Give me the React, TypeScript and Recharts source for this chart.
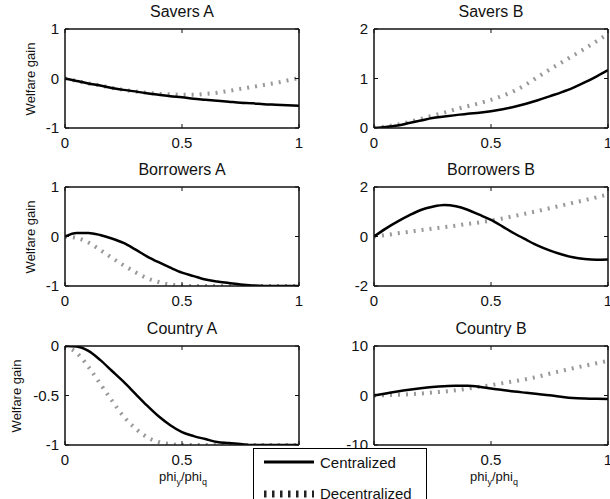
import React from 'react'
import { LineChart, Line, XAxis, YAxis } from 'recharts'

const xs = [0, 0.05, 0.1, 0.15, 0.2, 0.25, 0.3, 0.35, 0.4, 0.45, 0.5, 0.55, 0.6, 0.65, 0.7, 0.75, 0.8, 0.85, 0.9, 0.95, 1]
const xTicks = [0, 0.5, 1]

const saversACent = [0, -0.05, -0.1, -0.14, -0.19, -0.23, -0.26, -0.3, -0.33, -0.36, -0.38, -0.41, -0.43, -0.45, -0.47, -0.49, -0.5, -0.52, -0.53, -0.54, -0.55]
const saversADec = [0, -0.05, -0.1, -0.14, -0.19, -0.23, -0.26, -0.29, -0.31, -0.32, -0.33, -0.33, -0.31, -0.29, -0.25, -0.21, -0.17, -0.13, -0.09, -0.04, 0.01]

const saversBCent = [0, 0.02, 0.05, 0.1, 0.15, 0.2, 0.23, 0.26, 0.29, 0.31, 0.34, 0.38, 0.43, 0.49, 0.56, 0.64, 0.72, 0.81, 0.92, 1.04, 1.17]
const saversBDec = [0, 0.03, 0.07, 0.12, 0.18, 0.25, 0.31, 0.38, 0.44, 0.5, 0.57, 0.65, 0.75, 0.88, 1.03, 1.18, 1.32, 1.46, 1.6, 1.75, 1.9]

const borrowersACent = [0, 0.07, 0.07, 0.03, -0.04, -0.13, -0.26, -0.4, -0.52, -0.63, -0.73, -0.8, -0.87, -0.91, -0.94, -0.97, -0.99, -1, -1, -1, -1]
const borrowersADec = [0, -0.03, -0.12, -0.27, -0.43, -0.58, -0.72, -0.84, -0.92, -0.97, -0.99, -1, -1, -1, -1, -1, -1, -1, -1, -1, -1]

const borrowersBCent = [0, 0.32, 0.6, 0.85, 1.07, 1.2, 1.27, 1.22, 1.08, 0.88, 0.67, 0.4, 0.12, -0.13, -0.37, -0.56, -0.72, -0.84, -0.91, -0.94, -0.93]
const borrowersBDec = [0, 0.06, 0.13, 0.19, 0.26, 0.32, 0.38, 0.44, 0.51, 0.57, 0.64, 0.73, 0.83, 0.93, 1.03, 1.14, 1.25, 1.36, 1.47, 1.58, 1.7]

const countryACent = [0, -0.005, -0.05, -0.14, -0.25, -0.36, -0.48, -0.6, -0.71, -0.8, -0.87, -0.91, -0.94, -0.97, -0.98, -0.99, -1, -1, -1, -1, -1]
const countryADec = [0, -0.07, -0.21, -0.38, -0.55, -0.71, -0.83, -0.92, -0.97, -0.99, -1, -1, -1, -1, -1, -1, -1, -1, -1, -1, -1]

const countryBCent = [0, 0.4, 0.8, 1.15, 1.45, 1.7, 1.88, 1.97, 1.95, 1.75, 1.4, 1.1, 0.8, 0.55, 0.3, 0.05, -0.25, -0.5, -0.62, -0.68, -0.7]
const countryBDec = [0, 0.05, 0.15, 0.25, 0.4, 0.6, 0.8, 1.05, 1.4, 1.75, 2.1, 2.5, 2.9, 3.3, 3.8, 4.4, 4.95, 5.5, 6.0, 6.5, 7.0]

const FONT = '"Liberation Sans", Arial, Helvetica, sans-serif'
const INK = '#111'
const TICK_FS = 15
const XM = 9 // gap between frame and x tick labels
const YM = 6

const PW = 234
const PH = 99
const LEFT_W = 60
const TOP_PAD = 13

const rows = (c: number[], d: number[]) => xs.map((x, i) => ({ x, c: c[i], d: d[i] }))

const BottomTick = ({ x, y, payload }: any) => (
  <g>
    <line x1={x} y1={y - XM} x2={x} y2={y - XM - 4} stroke={INK} strokeWidth={1} />
    <text x={x} y={y} dy="0.71em" textAnchor="middle" fontSize={TICK_FS} fontFamily={FONT} fill={INK}>
      {payload.value}
    </text>
  </g>
)

const TopTick = ({ x, y }: any) => (
  <line x1={x} y1={y} x2={x} y2={y + 4} stroke={INK} strokeWidth={1} />
)

const LeftTick = ({ x, y, payload }: any) => (
  <g>
    <line x1={x + YM} y1={y} x2={x + YM + 4} y2={y} stroke={INK} strokeWidth={1} />
    <text x={x} y={y} dy="0.355em" textAnchor="end" fontSize={TICK_FS} fontFamily={FONT} fill={INK}>
      {payload.value}
    </text>
  </g>
)

const RightTick = ({ x, y }: any) => (
  <line x1={x} y1={y} x2={x - 4} y2={y} stroke={INK} strokeWidth={1} />
)

const frameLine = { stroke: INK, strokeWidth: 1.5 }

type PanelProps = {
  title: string
  data: { x: number; c: number; d: number }[]
  yDomain: [number, number]
  yTicks: number[]
  fx: number
  fy: number
}

const Panel = ({ title, data, yDomain, yTicks, fx, fy }: PanelProps) => (
  <>
    <div
      style={{
        position: 'absolute',
        left: fx,
        top: fy - 27,
        width: PW,
        height: 20,
        lineHeight: '20px',
        textAlign: 'center',
        fontSize: 16,
        color: INK,
      }}
    >
      {title}
    </div>
    <div style={{ position: 'absolute', left: fx - LEFT_W, top: fy - TOP_PAD }}>
      <LineChart
        width={LEFT_W + PW + 6}
        height={TOP_PAD + PH + 40}
        data={data}
        margin={{ top: TOP_PAD - 1, right: 4, left: 0, bottom: 0 }}
      >
        <XAxis
          dataKey="x"
          type="number"
          domain={[0, 1]}
          ticks={xTicks}
          interval={0}
          allowDataOverflow
          height={40}
          tickSize={0}
          tickMargin={XM}
          tick={BottomTick}
          axisLine={frameLine}
        />
        <XAxis
          xAxisId="top"
          orientation="top"
          dataKey="x"
          type="number"
          domain={[0, 1]}
          ticks={xTicks}
          interval={0}
          allowDataOverflow
          height={1}
          tickSize={0}
          tickMargin={0}
          tick={TopTick}
          axisLine={frameLine}
        />
        <YAxis
          type="number"
          domain={yDomain}
          ticks={yTicks}
          interval={0}
          allowDataOverflow
          width={LEFT_W}
          tickSize={0}
          tickMargin={YM}
          tick={LeftTick}
          axisLine={frameLine}
        />
        <YAxis
          yAxisId="right"
          orientation="right"
          type="number"
          domain={yDomain}
          ticks={yTicks}
          interval={0}
          allowDataOverflow
          width={2}
          tickSize={0}
          tickMargin={0}
          tick={RightTick}
          axisLine={frameLine}
        />
        <Line
          type="monotone"
          dataKey="d"
          stroke="#999"
          strokeWidth={4}
          strokeDasharray="2 6"
          strokeLinecap="butt"
          dot={false}
          isAnimationActive={false}
        />
        <Line type="monotone" dataKey="c" stroke="#000" strokeWidth={2.5} dot={false} isAnimationActive={false} />
      </LineChart>
    </div>
  </>
)

const YLabel = ({ cx, cy }: { cx: number; cy: number }) => (
  <div
    style={{
      position: 'absolute',
      left: cx - 50,
      top: cy - 8,
      width: 100,
      height: 16,
      lineHeight: '16px',
      textAlign: 'center',
      fontSize: 13,
      color: INK,
      transform: 'rotate(-90deg)',
    }}
  >
    Welfare gain
  </div>
)

const XLabel = ({ cx, cy }: { cx: number; cy: number }) => (
  <div
    style={{
      position: 'absolute',
      left: cx - 50,
      top: cy - 9,
      width: 100,
      height: 18,
      lineHeight: '18px',
      textAlign: 'center',
      fontSize: 13,
      color: INK,
    }}
  >
    phi<span style={{ fontSize: 9, position: 'relative', top: 4 }}>y</span>/phi
    <span style={{ fontSize: 9, position: 'relative', top: 4 }}>q</span>
  </div>
)

export default function App() {
  return (
    <div
      style={{
        position: 'absolute',
        left: 0,
        top: 0,
        width: 610,
        height: 499,
        overflow: 'hidden',
        background: '#fff',
        fontFamily: FONT,
      }}
    >
      <Panel title="Savers A" data={rows(saversACent, saversADec)} yDomain={[-1, 1]} yTicks={[-1, 0, 1]} fx={65} fy={29} />
      <Panel title="Savers B" data={rows(saversBCent, saversBDec)} yDomain={[0, 2]} yTicks={[0, 1, 2]} fx={374} fy={29} />
      <Panel title="Borrowers A" data={rows(borrowersACent, borrowersADec)} yDomain={[-1, 1]} yTicks={[-1, 0, 1]} fx={65} fy={187} />
      <Panel title="Borrowers B" data={rows(borrowersBCent, borrowersBDec)} yDomain={[-2, 2]} yTicks={[-2, 0, 2]} fx={374} fy={187} />
      <Panel title="Country A" data={rows(countryACent, countryADec)} yDomain={[-1, 0]} yTicks={[-1, -0.5, 0]} fx={65} fy={346} />
      <Panel title="Country B" data={rows(countryBCent, countryBDec)} yDomain={[-10, 10]} yTicks={[-10, 0, 10]} fx={374} fy={346} />

      <YLabel cx={31} cy={79} />
      <YLabel cx={31} cy={237} />
      <YLabel cx={17} cy={396} />
      <XLabel cx={183} cy={477} />
      <XLabel cx={494} cy={477} />

      <div
        style={{
          position: 'absolute',
          left: 253,
          top: 448,
          width: 172,
          height: 60,
          border: '1px solid #000',
          background: '#fff',
          fontSize: 15,
          color: INK,
        }}
      >
        <svg width={62} height={60} style={{ position: 'absolute', left: 0, top: 0 }}>
          <line x1={10} y1={13} x2={60} y2={13} stroke="#000" strokeWidth={3} />
          <line x1={10} y1={45} x2={60} y2={45} stroke="#222" strokeWidth={7} strokeDasharray="2.5 5.5" />
        </svg>
        <div style={{ position: 'absolute', left: 66, top: 4, lineHeight: '20px' }}>Centralized</div>
        <div style={{ position: 'absolute', left: 66, top: 35, lineHeight: '20px' }}>Decentralized</div>
      </div>
    </div>
  )
}
